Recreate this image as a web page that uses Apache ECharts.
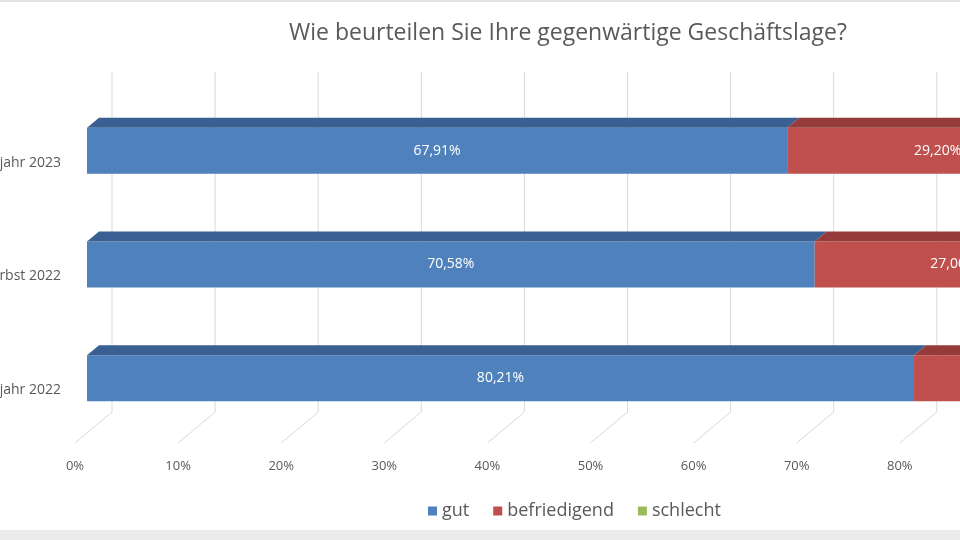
<!DOCTYPE html>
<html>
<head>
<meta charset="utf-8">
<script src="https://cdn.jsdelivr.net/npm/echarts@6/dist/echarts.min.js"></script>
<style>
  html, body { margin: 0; padding: 0; background: #fff; }
  #chart { width: 960px; height: 540px; }
</style>
</head>
<body>
<div id="chart"></div>
<script>
const categories = ['Frühjahr 2023', 'Herbst 2022', 'Frühjahr 2022'];
const seriesNames = ['gut', 'befriedigend', 'schlecht'];
const gut = [67.91, 70.58, 80.21];
const befriedigend = [29.20, 27.00, 18.75];
const schlecht = [2.89, 2.42, 1.04];
const xTicks = [0, 10, 20, 30, 40, 50, 60, 70, 80, 90, 100];

const frontColors = ['#4f81bd', '#c0504d', '#9bbb59'];
const topColors = ['#3a6093', '#953c3a', '#77913f'];

const fontFamily = '"Open Sans", Lato, sans-serif';
const depthX = 12, depthY = 10, barH = 46;

function fmt(v) {
    return v.toFixed(2).replace('.', ',') + '%';
}

// top faces of each stacked segment
const values = [gut, befriedigend, schlecht];
const topFaces = [];
categories.forEach((c, ci) => {
    let start = 0;
    values.forEach((arr, si) => {
        topFaces.push([start, start + arr[ci], ci, si]);
        start += arr[ci];
    });
});

const chart = echarts.init(document.getElementById('chart'));

const barSeries = seriesNames.map((name, si) => ({
    name: name,
    type: 'bar',
    stack: 'total',
    barWidth: barH,
    z: 3,
    itemStyle: { color: frontColors[si] },
    label: {
        show: true,
        position: 'inside',
        color: '#fff',
        fontFamily: fontFamily,
        fontSize: 14,
        formatter: p => fmt(p.value)
    },
    data: values[si]
}));

chart.setOption({
    backgroundColor: '#fff',
    animation: false,
    title: {
        text: 'Wie beurteilen Sie Ihre gegenwärtige Geschäftslage?',
        left: 284,
        top: 17,
        textStyle: { fontFamily: fontFamily, fontSize: 23, fontWeight: 'normal', color: '#595959' }
    },
    legend: {
        data: seriesNames,
        left: 423,
        top: 497,
        icon: 'rect',
        itemWidth: 9,
        itemHeight: 9,
        itemGap: 24,
        textStyle: { fontFamily: fontFamily, fontSize: 18, color: '#595959', padding: [0, 0, 0, 0] }
    },
    grid: { left: 87, top: 94, width: 1031, height: 341, outerBoundsMode: 'none', containLabel: false },
    xAxis: {
        type: 'value',
        min: 0,
        max: 100,
        interval: 10,
        splitLine: { show: false },
        axisLine: { show: false },
        axisTick: { show: false },
        axisLabel: {
            margin: 25,
            padding: [0, 24, 0, 0],
            fontFamily: fontFamily,
            fontSize: 13,
            color: '#595959',
            formatter: '{value}%'
        }
    },
    yAxis: {
        type: 'category',
        inverse: true,
        data: categories,
        axisLine: { show: false },
        axisTick: { show: false },
        axisLabel: {
            margin: 26,
            verticalAlign: 'top',
            padding: [5, 0, 0, 0],
            fontFamily: fontFamily,
            fontSize: 14,
            color: '#595959'
        }
    },
    graphic: [
        { type: 'rect', shape: { x: 0, y: 0, width: 960, height: 2 }, style: { fill: '#e4e4e4' }, z: 100 },
        { type: 'rect', shape: { x: 0, y: 530, width: 960, height: 10 }, style: { fill: '#ececec' }, z: 100 }
    ],
    series: [
        {
            type: 'custom',
            name: 'grid3d',
            z: 1,
            silent: true,
            data: xTicks.map(v => [v, 0]),
            renderItem: function (params, api) {
                const cs = params.coordSys;
                const x = api.coord([api.value(0), 0])[0];
                const top = cs.y - 22;
                const bend = cs.y + cs.height - 23;
                const end = cs.y + cs.height + 8;
                return {
                    type: 'polyline',
                    shape: { points: [[x + 25, top], [x + 25, bend], [x - 12, end]] },
                    style: { stroke: '#d9d9d9', lineWidth: 1, fill: null }
                };
            }
        },
        ...barSeries,
        {
            type: 'custom',
            name: 'tops',
            z: 4,
            silent: true,
            data: topFaces,
            renderItem: function (params, api) {
                const p0 = api.coord([api.value(0), api.value(2)]);
                const p1 = api.coord([api.value(1), api.value(2)]);
                const y = p0[1] - barH / 2;
                return {
                    type: 'polygon',
                    shape: {
                        points: [
                            [p0[0], y],
                            [p0[0] + depthX, y - depthY],
                            [p1[0] + depthX, y - depthY],
                            [p1[0], y]
                        ]
                    },
                    style: { fill: topColors[api.value(3)] }
                };
            }
        }
    ]
});
</script>
</body>
</html>
